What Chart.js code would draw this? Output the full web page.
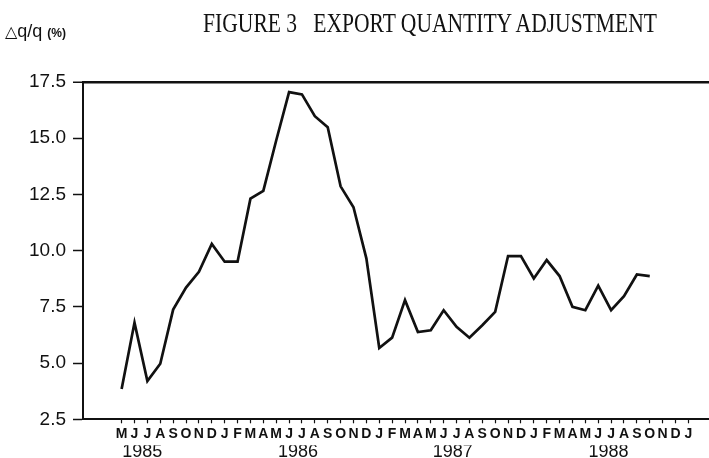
<!DOCTYPE html>
<html>
<head>
<meta charset="utf-8">
<script src="https://cdn.jsdelivr.net/npm/chart.js@4/dist/chart.umd.min.js"></script>
<style>
  html, body { margin: 0; padding: 0; background: #fff; }
  #wrap { position: relative; width: 709px; height: 458px; overflow: hidden; }
  #title {
    position: absolute; left: 130px; width: 600px; top: 7px; text-align: center;
    font-family: 'Liberation Serif', 'Times New Roman', serif; font-size: 28px;
    line-height: 32px; white-space: pre; color: #111;
    transform: scaleX(0.77); transform-origin: 300px 0;
  }
  #unit {
    position: absolute; left: 5px; top: 21px; color: #111;
    font-family: 'Liberation Sans', Arial, sans-serif; font-size: 18px; line-height: 20px;
  }
  #unit .tri { font-family: 'DejaVu Sans', sans-serif; font-size: 16px; }
  #unit .pct { font-size: 12px; font-weight: bold; }
</style>
</head>
<body>
<div id="wrap">
  <canvas id="chart"></canvas>
  <div id="title">FIGURE 3   EXPORT QUANTITY ADJUSTMENT</div>
  <div id="unit"><span class="tri">△</span>q/q <span class="pct">(%)</span></div>
</div>
<script>
// months from May 1985 to Jan 1989
const monthLabels = [
  'M', 'J', 'J', 'A', 'S', 'O', 'N', 'D',
  'J', 'F', 'M', 'A', 'M', 'J', 'J', 'A', 'S', 'O', 'N', 'D',
  'J', 'F', 'M', 'A', 'M', 'J', 'J', 'A', 'S', 'O', 'N', 'D',
  'J', 'F', 'M', 'A', 'M', 'J', 'J', 'A', 'S', 'O', 'N', 'D',
  'J',
];
const yearLabels = ['1985', '1986', '1987', '1988'];
const yearPos = [1.6, 13.7, 25.7, 37.8]; // month index under which each year is centred

// Δq/q (%), May 1985 .. Oct 1988
const qtyAdj = [
  3.85, 6.8, 4.2, 4.97, 7.38, 8.36, 9.06, 10.3,
  9.51, 9.51, 12.31, 12.66, 14.9, 17.05, 16.95, 15.98, 15.49, 12.86, 11.93, 9.66,
  5.67, 6.13, 7.8, 6.38, 6.46, 7.35, 6.61, 6.13, 6.68, 7.28, 9.76, 9.76,
  8.76, 9.58, 8.87, 7.5, 7.35, 8.44, 7.35, 7.98, 8.94, 8.87,
];
const yTicks = [2.5, 5, 7.5, 10, 12.5, 15, 17.5];

const ink = '#111';
const sans = "'Liberation Sans', Arial, sans-serif";

Chart.defaults.font.family = sans;
Chart.defaults.color = ink;

new Chart(document.getElementById('chart'), {
  type: 'line',
  data: {
    datasets: [
      {
        data: qtyAdj.map((v, i) => ({ x: i, y: v })),
        borderColor: ink,
        borderWidth: 2.7,
        pointRadius: 0,
        tension: 0,
        fill: false,
      },
    ],
  },
  options: {
    responsive: true,
    maintainAspectRatio: false,
    animation: false,
    layout: { padding: { top: 82, left: 22, right: 0, bottom: 0 } },
    plugins: { legend: { display: false }, tooltip: { enabled: false } },
    scales: {
      x: {
        type: 'linear',
        min: -3,
        max: 45.6,
        afterBuildTicks: (axis) => {
          axis.ticks = monthLabels.map((_, i) => ({ value: i }));
        },
        ticks: {
          autoSkip: false,
          maxRotation: 0,
          padding: 4,
          font: { size: 14, weight: 'bold', lineHeight: 1 },
          callback: (v) => monthLabels[v],
        },
        grid: { drawOnChartArea: false, tickLength: 4, color: ink, tickWidth: 1.2 },
        border: { display: true, color: ink, width: 2 },
      },
      x2: {
        type: 'linear',
        position: 'bottom',
        min: -3,
        max: 45.6,
        afterBuildTicks: (axis) => {
          axis.ticks = yearPos.map((v) => ({ value: v }));
        },
        ticks: {
          autoSkip: false,
          maxRotation: 0,
          padding: -1.3,
          font: { size: 18, lineHeight: 0.85 },
          callback: (v) => yearLabels[yearPos.indexOf(v)],
        },
        grid: { display: false, drawTicks: false },
        border: { display: false },
      },
      y: {
        min: 2.5,
        max: 17.5,
        afterBuildTicks: (axis) => {
          axis.ticks = yTicks.map((v) => ({ value: v }));
        },
        ticks: {
          padding: 7,
          font: { size: 19 },
          callback: (v) => v.toFixed(1),
        },
        grid: {
          drawOnChartArea: true,
          tickLength: 10,
          tickColor: ink,
          tickWidth: 1.5,
          color: (ctx) => (ctx.tick && ctx.tick.value === 17.5 ? ink : 'rgba(0,0,0,0)'),
          lineWidth: (ctx) => (ctx.tick && ctx.tick.value === 17.5 ? 2.5 : 1),
        },
        border: { display: true, color: ink, width: 2 },
      },
    },
  },
});
</script>
</body>
</html>
